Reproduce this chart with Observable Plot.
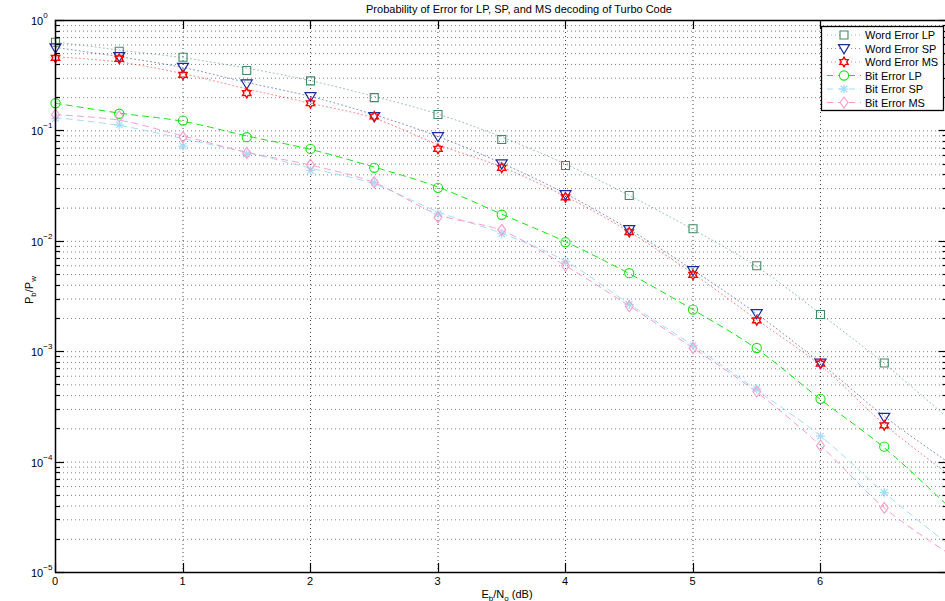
<!DOCTYPE html>
<html>
<head>
<meta charset="utf-8">
<script src="https://cdn.jsdelivr.net/npm/d3@7"></script>
<script src="https://cdn.jsdelivr.net/npm/@observablehq/plot@0.6"></script>
<style>
html, body { margin: 0; padding: 0; background: #fff; overflow: hidden; width: 945px; height: 601px; }
svg { display: block; }
</style>
</head>
<body>
<script>
// ---------- data ----------
const snr = [0, 0.5, 1, 1.5, 2, 2.5, 3, 3.5, 4, 4.5, 5, 5.5, 6, 6.5];
const wordErrLP = [0.636, 0.527, 0.465, 0.352, 0.284, 0.20, 0.141, 0.0835, 0.0486, 0.026, 0.013, 0.006, 0.00217, 0.00079];
const wordErrSP = [0.566, 0.472, 0.378, 0.267, 0.205, 0.135, 0.089, 0.0504, 0.0265, 0.0128, 0.00544, 0.00222, 0.00079, 0.000255];
const wordErrMS = [0.459, 0.45, 0.322, 0.22, 0.178, 0.135, 0.0688, 0.0463, 0.025, 0.0121, 0.00497, 0.00192, 0.00078, 0.000215];
const bitErrLP  = [0.178, 0.143, 0.124, 0.0877, 0.0687, 0.0463, 0.0305, 0.0174, 0.0098, 0.00514, 0.00241, 0.00108, 0.000374, 0.000138];
const bitErrSP  = [0.129, 0.1135, 0.0727, 0.0617, 0.0438, 0.034, 0.0177, 0.0117, 0.0065, 0.00268, 0.00114, 0.00046, 0.000172, 0.000053];
const bitErrMS  = [0.14, 0.135, 0.0877, 0.0633, 0.0493, 0.0343, 0.0165, 0.0127, 0.006, 0.00258, 0.00108, 0.000436, 0.000141, 0.0000385];

// fitted curves drawn as lines
const fitSnr = [0, 0.5, 1, 1.5, 2, 2.5, 3, 3.5, 4, 4.5, 5, 5.5, 6, 6.5, 7];
const wordFitLP = [0.64, 0.54, 0.46, 0.37, 0.285, 0.205, 0.142, 0.088, 0.050, 0.026, 0.0128, 0.0059, 0.0022, 0.00078, 0.00025];
const wordFitSP = [0.57, 0.47, 0.375, 0.275, 0.205, 0.14, 0.089, 0.051, 0.027, 0.0128, 0.0055, 0.0022, 0.00079, 0.00026, 0.0001];
const wordFitMS = [0.47, 0.42, 0.33, 0.24, 0.178, 0.13, 0.075, 0.047, 0.0255, 0.0122, 0.0051, 0.00195, 0.00075, 0.00022, 0.000078];
const bitFitLP  = [0.178, 0.145, 0.122, 0.09, 0.068, 0.047, 0.031, 0.0176, 0.0099, 0.0051, 0.0024, 0.00106, 0.00037, 0.000135, 0.000040];
const bitFitSP  = [0.132, 0.112, 0.085, 0.064, 0.046, 0.033, 0.0185, 0.0118, 0.0066, 0.0027, 0.00114, 0.00045, 0.000172, 0.000053, 0.000018];
const bitFitMS  = [0.14, 0.125, 0.09, 0.064, 0.049, 0.034, 0.0175, 0.0125, 0.006, 0.0026, 0.00108, 0.00043, 0.000141, 0.0000385, 0.000015];

const seriesNames = ["Word Error LP", "Word Error SP", "Word Error MS", "Bit Error LP", "Bit Error SP", "Bit Error MS"];
const xTicks = [0, 1, 2, 3, 4, 5, 6, 7];
const yDecades = [1e-5, 1e-4, 1e-3, 1e-2, 1e-1, 1];
const yExponents = ["−5", "−4", "−3", "−2", "−1", "0"];

const titleText = "Probability of Error for LP, SP, and MS decoding of Turbo Code";

(function () {
// ---------- symbols (MATLAB-like markers) ----------
const rad = s => Math.sqrt(s / Math.PI);
const symSquare = {draw(c, s) { const r = rad(s); c.moveTo(-r, -r); c.lineTo(r, -r); c.lineTo(r, r); c.lineTo(-r, r); c.closePath(); }};
const symTriDown = {draw(c, s) { const r = rad(s); c.moveTo(-r, -r * 0.7); c.lineTo(r, -r * 0.7); c.lineTo(0, r * 0.95); c.closePath(); }};
const symHexagram = {draw(c, s) {
  const r = rad(s), ri = r / Math.sqrt(3);
  for (let k = 0; k < 12; k++) {
    const a = -Math.PI / 2 + k * Math.PI / 6, rr = k % 2 ? ri : r;
    const px = rr * Math.cos(a), py = rr * Math.sin(a);
    if (k) c.lineTo(px, py); else c.moveTo(px, py);
  }
  c.closePath();
}};
const symCircle = {draw(c, s) { const r = rad(s); c.moveTo(r, 0); c.arc(0, 0, r, 0, 2 * Math.PI); }};
const symAsterisk = {draw(c, s) {
  const r = rad(s);
  [0, 45, 90, 135].forEach(d => { const a = d * Math.PI / 180; c.moveTo(r * Math.cos(a), r * Math.sin(a)); c.lineTo(-r * Math.cos(a), -r * Math.sin(a)); });
}};
const symDiamond = {draw(c, s) { const r = rad(s); c.moveTo(0, -r); c.lineTo(r * 0.72, 0); c.lineTo(0, r); c.lineTo(-r * 0.72, 0); c.closePath(); }};

const styles = {
  "Word Error LP": {color: "#3f8a66", lineOpacity: 0.55, dash: "1,3", symbol: symSquare, r: 4, sw: 1.1},
  "Word Error SP": {color: "#1b2b98", lineOpacity: 0.55, dash: "1,3", symbol: symTriDown, r: 5.5, sw: 1.2},
  "Word Error MS": {color: "#ff0000", lineOpacity: 0.5, dash: "1,3", symbol: symHexagram, r: 4.8, sw: 1.4},
  "Bit Error LP":  {color: "#19e019", lineOpacity: 1, dash: "6,5", symbol: symCircle, r: 4.6, sw: 1.1},
  "Bit Error SP":  {color: "#a4dbf7", lineOpacity: 1, dash: "6,5", symbol: symAsterisk, r: 4.6, sw: 1.2},
  "Bit Error MS":  {color: "#fa9ccb", lineOpacity: 1, dash: "6,5", symbol: symDiamond, r: 5.5, sw: 1.1}
};

const markerSeries = [wordErrLP, wordErrSP, wordErrMS, bitErrLP, bitErrSP, bitErrMS];
const fitSeries = [wordFitLP, wordFitSP, wordFitMS, bitFitLP, bitFitSP, bitFitMS];

const markerRows = seriesNames.map((name, i) => snr.map((x, j) => ({name, snr: x, p: markerSeries[i][j]})));
const fitRows = seriesNames.map((name, i) => fitSnr.map((x, j) => ({name, snr: x, p: fitSeries[i][j]})));

// minor + major y grid values per decade
const yGrid = [];
yDecades.slice(0, -1).forEach(d => { for (let m = 1; m < 10; m++) yGrid.push(d * m); });
yGrid.push(1);

const FONT = "'Liberation Sans', Arial, Helvetica, sans-serif";

const plot = Plot.plot({
  width: 950,
  height: 601,
  marginLeft: 55,
  marginRight: 2.5,
  marginTop: 20,
  marginBottom: 29,
  style: {fontFamily: FONT, fontSize: "11px", background: "#fff", overflow: "visible", maxWidth: "none"},
  x: {domain: [0, 7], axis: null},
  y: {type: "log", domain: [1e-5, 1], axis: null},
  marks: [
    Plot.ruleY(yGrid, {stroke: "#808080", strokeDasharray: "1,3", strokeWidth: 1}),
    Plot.ruleX(xTicks.slice(1, -1), {stroke: "#444", strokeDasharray: "1,3", strokeWidth: 1}),
    ...seriesNames.map((name, i) => Plot.line(fitRows[i], {
      x: "snr", y: "p", stroke: styles[name].color, strokeOpacity: styles[name].lineOpacity,
      strokeDasharray: styles[name].dash, strokeWidth: 1, curve: "catmull-rom"
    })),
    ...seriesNames.map((name, i) => Plot.dot(markerRows[i], {
      x: "snr", y: "p", stroke: styles[name].color, fill: "none",
      symbol: styles[name].symbol, r: styles[name].r, strokeWidth: styles[name].sw
    })),
    Plot.frame({stroke: "#000", strokeWidth: 1.5})
  ]
});
plot.style.maxWidth = "none";
plot.setAttribute("width", 950);
document.body.appendChild(plot);

// ---------- axes decorations, labels, legend (drawn with the plot's own scales) ----------
const xs = plot.scale("x"), ys = plot.scale("y");
const X = v => xs.apply(v), Y = v => ys.apply(v);
const svg = d3.select(plot);
const pLeft = X(0), pRight = X(7), pTop = Y(1), pBottom = Y(1e-5);

const tg = svg.append("g").attr("stroke", "#000").attr("stroke-width", 1.2);
yGrid.forEach(v => {
  const major = yDecades.includes(v);
  const len = major ? 9 : 5;
  const y = Math.round(Y(v)) + 0.5;
  tg.append("line").attr("x1", pLeft).attr("x2", pLeft + len).attr("y1", y).attr("y2", y);
  tg.append("line").attr("x1", pRight - len).attr("x2", pRight).attr("y1", y).attr("y2", y);
});
xTicks.forEach(v => {
  const x = Math.round(X(v)) + 0.5;
  tg.append("line").attr("x1", x).attr("x2", x).attr("y1", pBottom).attr("y2", pBottom - 9);
  tg.append("line").attr("x1", x).attr("x2", x).attr("y1", pTop).attr("y2", pTop + 9);
});

const lg = svg.append("g").attr("font-family", FONT).attr("font-size", 11).attr("fill", "#000").attr("text-anchor", "start");

// y tick labels 10^k
yDecades.forEach((v, i) => {
  const t = lg.append("text").attr("x", 31).attr("y", Y(v) + 5).attr("text-anchor", "start");
  t.append("tspan").text("10");
  t.append("tspan").attr("dy", -7).attr("font-size", 8).text(yExponents[i]);
});
// x tick labels
xTicks.slice(0, -1).forEach(v => {
  lg.append("text").attr("x", X(v)).attr("y", 584.5).attr("text-anchor", "middle").text(String(v));
});
// x label
const xl = lg.append("text").attr("x", 507).attr("y", 597.5).attr("text-anchor", "middle");
xl.append("tspan").text("E");
xl.append("tspan").attr("dy", 3).attr("font-size", 8).text("b");
xl.append("tspan").attr("dy", -3).text("/N");
xl.append("tspan").attr("dy", 3).attr("font-size", 8).text("o");
xl.append("tspan").attr("dy", -3).text(" (dB)");
// y label
const yl = lg.append("text").attr("transform", `translate(33,${(pTop + pBottom) / 2 - 6}) rotate(-90)`).attr("text-anchor", "middle");
yl.append("tspan").text("P");
yl.append("tspan").attr("dy", 3).attr("font-size", 8).text("b");
yl.append("tspan").attr("dy", -3).text("/P");
yl.append("tspan").attr("dy", 3).attr("font-size", 8).text("w");
// title
lg.append("text").attr("x", 519).attr("y", 13).attr("text-anchor", "middle").text(titleText);

// legend
const leg = svg.append("g").attr("font-family", FONT).attr("font-size", 11).attr("text-anchor", "start");
leg.append("rect").attr("x", 821.5).attr("y", 26.5).attr("width", 122).attr("height", 84)
  .attr("fill", "#fff").attr("stroke", "#000").attr("stroke-width", 1.3);
seriesNames.forEach((name, i) => {
  const st = styles[name];
  const cy = 35 + 13.5 * i;
  leg.append("line").attr("x1", 827).attr("x2", 861).attr("y1", cy).attr("y2", cy)
    .attr("stroke", st.color).attr("stroke-opacity", st.lineOpacity).attr("stroke-dasharray", st.dash).attr("stroke-width", 1);
  const p = d3.path();
  st.symbol.draw(p, Math.PI * st.r * st.r);
  leg.append("path").attr("d", p.toString()).attr("transform", `translate(844,${cy})`)
    .attr("fill", "#fff").attr("stroke", st.color).attr("stroke-width", st.sw);
  leg.append("text").attr("x", 865).attr("y", cy + 4).attr("fill", "#000").attr("text-anchor", "start").text(name);
});
})();
</script>
</body>
</html>
